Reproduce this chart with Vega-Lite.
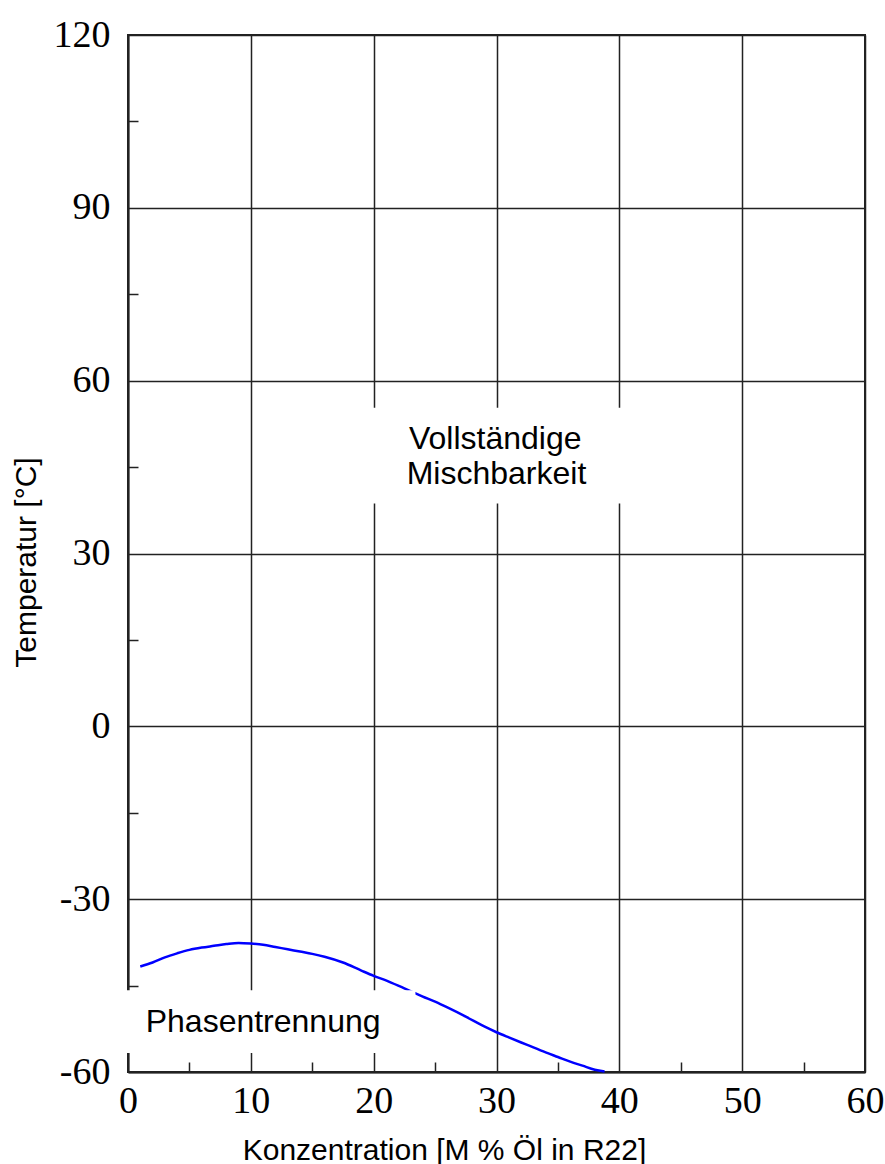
{
  "$schema": "https://vega.github.io/schema/vega-lite/v6.json",
  "width": 737,
  "height": 1037,
  "autosize": {"type": "none"},
  "padding": {"left": 128, "top": 35, "right": 20, "bottom": 92},
  "background": "white",
  "config": {
    "view": {"stroke": "#222", "strokeWidth": 2},
    "axis": {"zindex": 0}
  },
  "datasets": {
    "curve": [
      {"konz": 1.0, "temp": -41.7},
      {"konz": 2, "temp": -41.0},
      {"konz": 3, "temp": -40.1},
      {"konz": 4, "temp": -39.4},
      {"konz": 5, "temp": -38.8},
      {"konz": 6, "temp": -38.4},
      {"konz": 7, "temp": -38.1},
      {"konz": 8, "temp": -37.8},
      {"konz": 9, "temp": -37.6},
      {"konz": 10, "temp": -37.7},
      {"konz": 11, "temp": -37.9},
      {"konz": 12, "temp": -38.3},
      {"konz": 13, "temp": -38.7},
      {"konz": 14, "temp": -39.1},
      {"konz": 15, "temp": -39.5},
      {"konz": 16, "temp": -40.0},
      {"konz": 17.5, "temp": -41.0},
      {"konz": 19, "temp": -42.4},
      {"konz": 20, "temp": -43.3},
      {"konz": 21, "temp": -44.1},
      {"konz": 22.5, "temp": -45.5},
      {"konz": 24, "temp": -46.9},
      {"konz": 25, "temp": -47.8},
      {"konz": 26, "temp": -48.8},
      {"konz": 27.5, "temp": -50.4},
      {"konz": 29, "temp": -52.1},
      {"konz": 30, "temp": -53.1},
      {"konz": 31, "temp": -54.0},
      {"konz": 32.5, "temp": -55.3},
      {"konz": 34, "temp": -56.6},
      {"konz": 35, "temp": -57.4},
      {"konz": 36, "temp": -58.2},
      {"konz": 37, "temp": -58.9},
      {"konz": 38, "temp": -59.6},
      {"konz": 38.8, "temp": -59.9}
    ],
    "boxes": [
      {"x1": 19, "x2": 41, "y1": 38.7, "y2": 55.3},
      {"x1": -0.5, "x2": 23.4, "y1": -56.7, "y2": -45.8}
    ],
    "labels": [
      {"konz": 29.9, "temp": 48.2, "text": "Vollständige"},
      {"konz": 30.0, "temp": 42.1, "text": "Mischbarkeit"},
      {"konz": 11.0, "temp": -53.05, "text": "Phasentrennung"}
    ]
  },
  "layer": [
    {
      "data": {"name": "curve"},
      "mark": {"type": "line", "color": "#0000FF", "strokeWidth": 2.5, "interpolate": "monotone"},
      "encoding": {
        "x": {
          "field": "konz",
          "type": "quantitative",
          "scale": {"domain": [0, 60], "nice": false, "zero": false},
          "axis": {
            "values": [0, 5, 10, 15, 20, 25, 30, 35, 40, 45, 50, 55, 60],
            "labelExpr": "datum.value % 10 === 0 ? '' + datum.value : ''",
            "labelFlush": false,
            "labelOverlap": false,
            "labelFont": "Liberation Serif",
            "labelFontSize": 38,
            "labelColor": "black",
            "labelPadding": 10,
            "grid": true,
            "gridColor": "#222",
            "gridWidth": 1.5,
            "gridOpacity": {"condition": {"test": "datum.value % 10 === 0", "value": 1}, "value": 0},
            "ticks": true,
            "tickColor": "#222",
            "tickWidth": 1.5,
            "tickSize": {"condition": {"test": "datum.value % 10 === 0", "value": 0}, "value": -10},
            "domainColor": "#222",
            "domainWidth": 2,
            "title": "Konzentration [M % Öl in R22]",
            "titleFont": "Liberation Sans",
            "titleFontSize": 30,
            "titleFontWeight": "normal",
            "titleColor": "black",
            "titleBaseline": "alphabetic",
            "titleAlign": "center",
            "titleAnchor": "start",
            "titleX": 316,
            "titleY": 87
          }
        },
        "y": {
          "field": "temp",
          "type": "quantitative",
          "scale": {"domain": [-60, 120], "nice": false, "zero": false},
          "axis": {
            "values": [-60, -45, -30, -15, 0, 15, 30, 45, 60, 75, 90, 105, 120],
            "labelExpr": "datum.value % 30 === 0 ? '' + datum.value : ''",
            "labelFlush": false,
            "labelOverlap": false,
            "labelFont": "Liberation Serif",
            "labelFontSize": 38,
            "labelColor": "black",
            "labelPadding": 18,
            "grid": true,
            "gridColor": "#222",
            "gridWidth": 1.5,
            "gridOpacity": {"condition": {"test": "datum.value % 30 === 0", "value": 1}, "value": 0},
            "ticks": true,
            "tickColor": "#222",
            "tickWidth": 1.5,
            "tickSize": {"condition": {"test": "datum.value % 30 === 0", "value": 0}, "value": -10},
            "domainColor": "#222",
            "domainWidth": 2,
            "title": "Temperatur [°C]",
            "titleFont": "Liberation Sans",
            "titleFontSize": 30,
            "titleFontWeight": "normal",
            "titleColor": "black",
            "titleAngle": -90,
            "titleBaseline": "alphabetic",
            "titleAlign": "center",
            "titleAnchor": "start",
            "titleX": -93,
            "titleY": 527
          }
        }
      }
    },
    {
      "data": {"name": "boxes"},
      "mark": {"type": "rect", "fill": "white", "stroke": null},
      "encoding": {
        "x": {"field": "x1", "type": "quantitative"},
        "x2": {"field": "x2"},
        "y": {"field": "y1", "type": "quantitative"},
        "y2": {"field": "y2"}
      }
    },
    {
      "data": {"name": "labels"},
      "mark": {"type": "text", "font": "Liberation Sans", "fontSize": 32, "color": "black", "align": "center", "baseline": "alphabetic"},
      "encoding": {
        "x": {"field": "konz", "type": "quantitative"},
        "y": {"field": "temp", "type": "quantitative"},
        "text": {"field": "text"}
      }
    }
  ]
}
